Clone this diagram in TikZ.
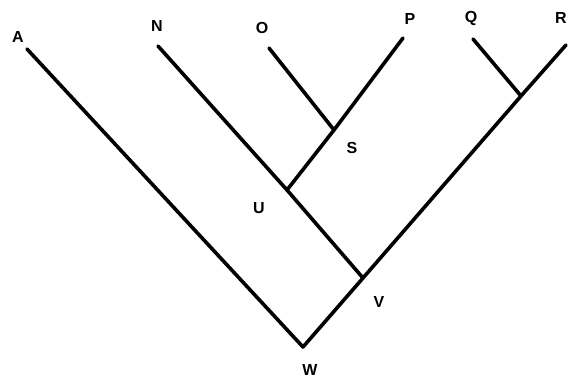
\documentclass[tikz,border=0pt]{standalone}
\usepackage{fontspec}
\setmainfont{Liberation Sans}
\begin{document}
\begin{tikzpicture}[x=1pt,y=-1pt,
  branch/.style={line width=3.6pt,line cap=round,line join=round},
  lbl/.style={font=\bfseries\fontsize{16}{18}\selectfont,inner sep=0pt}]
\useasboundingbox (0,0) rectangle (568,383);
% tips and junctions
\coordinate (a) at (27,49);
\coordinate (n) at (158,46);
\coordinate (o) at (269,48);
\coordinate (p) at (403,38);
\coordinate (q) at (473,39);
\coordinate (r) at (566,45);
\coordinate (s) at (334,130);
\coordinate (u) at (287,190);
\coordinate (v) at (363,278);
\coordinate (w) at (303,347);
\coordinate (qr) at (521,96);
% branches
\draw[branch] (a) -- (w) -- (v) -- (qr) -- (r);
\draw[branch] (q) -- (qr);
\draw[branch] (n) -- (u) -- (v);
\draw[branch] (u) -- (s) -- (p);
\draw[branch] (o) -- (s);
% labels
\node[lbl] (la) at (18,37) {A};
\node[lbl] (ln) at (157,26) {N};
\node[lbl] (lo) at (262,28) {O};
\node[lbl] (lp) at (410,19) {P};
\node[lbl] (lq) at (471,18) {Q};
\node[lbl] (lr) at (561,18) {R};
\node[lbl] (ls) at (352,148) {S};
\node[lbl] (lu) at (259,208) {U};
\node[lbl] (lv) at (379,302) {V};
\node[lbl] (lw) at (310,370) {W};
\end{tikzpicture}
\end{document}
